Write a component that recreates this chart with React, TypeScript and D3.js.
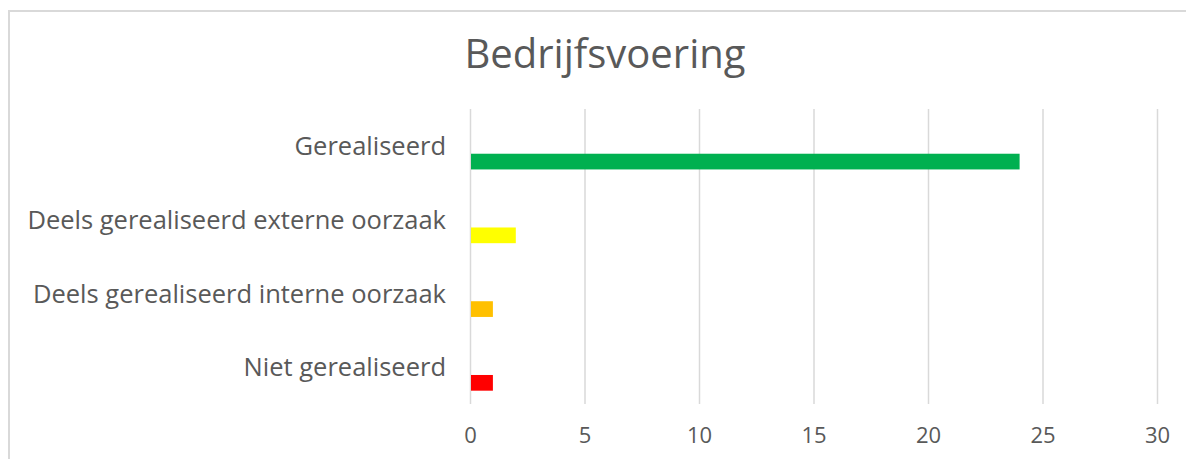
import React from 'react';
import * as d3 from 'd3';

// chart data
const categories = [
  'Gerealiseerd',
  'Deels gerealiseerd externe oorzaak',
  'Deels gerealiseerd interne oorzaak',
  'Niet gerealiseerd',
];
const values = [24, 2, 1, 1];
const barColors = ['#00B050', '#FFFF00', '#FFC000', '#FF0000'];
const xTicks = [0, 5, 10, 15, 20, 25, 30];
const title = 'Bedrijfsvoering';

const svgWidth = 1186;
const svgHeight = 459;
const margin = { top: 109, right: 29, bottom: 55, left: 470 };
const textColor = '#595959';
const gridColor = '#d9d9d9';
const font = '"Open Sans", sans-serif';

function BarChart() {
  const svgRef = React.useRef<SVGSVGElement>(null);

  React.useEffect(() => {
    const xScale = d3.scaleLinear()
      .domain([0, 30])
      .range([margin.left, svgWidth - margin.right]);

    const yScale = d3.scaleBand()
      .domain(categories)
      .range([margin.top, svgHeight - margin.bottom])
      .padding(0);

    const svg = d3.select(svgRef.current);
    svg.selectAll('*').remove(); // clear before redraw

    // chart border (right and bottom fall outside the window)
    svg.append('rect')
      .attr('x', 9)
      .attr('y', 11)
      .attr('width', svgWidth + 40)
      .attr('height', svgHeight + 40)
      .attr('fill', 'white')
      .attr('stroke', gridColor)
      .attr('stroke-width', 2);

    // title
    svg.append('text')
      .attr('x', 605)
      .attr('y', 68)
      .attr('text-anchor', 'middle')
      .attr('fill', textColor)
      .attr('font-family', font)
      .attr('font-size', 40)
      .text(title);

    // vertical grid lines
    const xAxis = d3.axisBottom(xScale)
      .tickValues(xTicks)
      .tickSize(-(yScale.range()[1] - yScale.range()[0]))
      .tickPadding(23)
      .tickFormat((d) => String(d));
    const xAxisGroup = svg.append('g')
      .attr('transform', `translate(0, ${yScale.range()[1]})`)
      .call(xAxis);
    xAxisGroup.select('.domain').remove();
    xAxisGroup.selectAll('line')
      .attr('stroke', gridColor)
      .attr('stroke-width', 1.5);
    xAxisGroup.selectAll('text')
      .attr('fill', textColor)
      .attr('font-family', font)
      .attr('font-size', 22)
      .attr('dy', '0.71em');

    // category labels
    svg.append('g')
      .selectAll('text')
      .data(categories)
      .enter()
      .append('text')
      .attr('x', margin.left - 24)
      .attr('y', (d) => yScale(d)! + yScale.bandwidth() / 2)
      .attr('dy', '0.36em')
      .attr('text-anchor', 'end')
      .attr('fill', textColor)
      .attr('font-family', font)
      .attr('font-size', 25.5)
      .text((d) => d);

    // bars sit just below the middle of each band
    const barH = yScale.bandwidth() * 0.213;
    svg.append('g')
      .selectAll('rect')
      .data(values)
      .enter()
      .append('rect')
      .attr('x', xScale(0) + 1)
      .attr('y', (d, i) => yScale(categories[i])! + yScale.bandwidth() / 2 + barH / 2)
      .attr('width', (d) => xScale(d) - xScale(0) - 1)
      .attr('height', barH)
      .attr('fill', (d, i) => barColors[i]);
  }, []);

  return (
    <>
      <style>{'body { margin: 0; overflow: hidden; }'}</style>
      <svg ref={svgRef} width={svgWidth} height={svgHeight} style={{ display: 'block' }} />
    </>
  );
}

export default function App() {
  return <BarChart />;
}
